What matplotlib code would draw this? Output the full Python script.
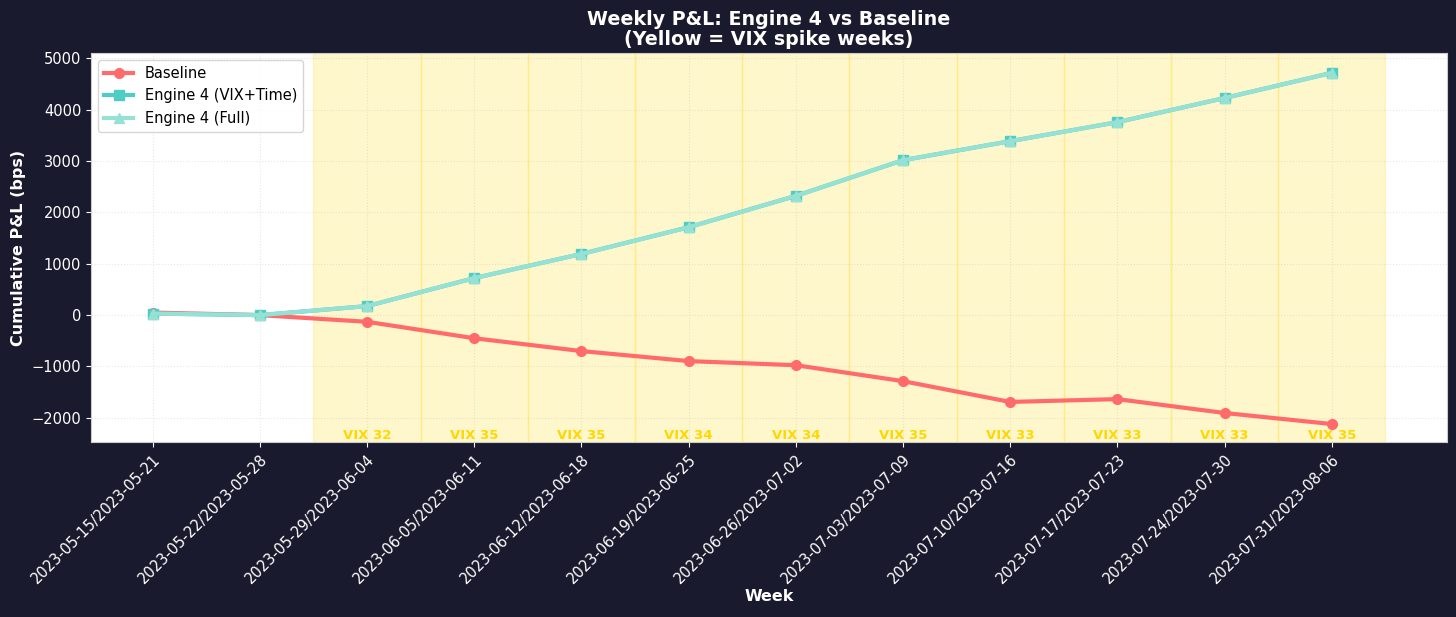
import matplotlib.pyplot as plt
import matplotlib.transforms as mtransforms
import numpy as np

weeks = ['2023-05-15/2023-05-21', '2023-05-22/2023-05-28', '2023-05-29/2023-06-04',
         '2023-06-05/2023-06-11', '2023-06-12/2023-06-18', '2023-06-19/2023-06-25',
         '2023-06-26/2023-07-02', '2023-07-03/2023-07-09', '2023-07-10/2023-07-16',
         '2023-07-17/2023-07-23', '2023-07-24/2023-07-30', '2023-07-31/2023-08-06']
baseline = [50, 0, -130, -450, -700, -895, -975, -1285, -1690, -1635, -1905, -2120]
engine_vix_time = [30, 0, 175, 720, 1190, 1710, 2320, 3015, 3385, 3755, 4225, 4715]
engine_full = [30, 0, 175, 720, 1190, 1710, 2320, 3015, 3385, 3755, 4225, 4715]
spike_weeks = [2, 3, 4, 5, 6, 7, 8, 9, 10, 11]
spike_vix = [32, 35, 35, 34, 34, 35, 33, 33, 33, 35]

bg = '#1a1a2e'
fig = plt.figure(figsize=(14.56, 6.17), dpi=100, facecolor=bg)
ax = fig.add_axes([0.0625, 0.2836, 0.9313, 0.6304])
ax.set_facecolor('white')

x = np.arange(len(weeks))

# spike week shading + labels
trans = mtransforms.blended_transform_factory(ax.transData, ax.transAxes)
for w, v in zip(spike_weeks, spike_vix):
    ax.axvspan(w - 0.5, w + 0.5, color='#FFD700', alpha=0.2)
    ax.text(w, 0.0, f'VIX {v}', transform=trans, ha='center', va='bottom',
            color='#FFD700', fontsize=9.5, fontweight='bold')

ax.plot(x, baseline, '-o', color='#FF6B6B', lw=3, ms=7, label='Baseline')
ax.plot(x, engine_vix_time, '-s', color='#4ECDC4', lw=3, ms=7, label='Engine 4 (VIX+Time)')
ax.plot(x, engine_full, '-^', color='#95E1D3', lw=3, ms=7, label='Engine 4 (Full)')

ax.set_xlim(-0.575, 12.075)
ax.set_ylim(-2470, 5100)
ax.set_xticks(x)
ax.set_xticklabels(weeks, rotation=45, ha='right', rotation_mode='anchor')
ax.tick_params(colors='white', labelsize=10.5)
for sp in ax.spines.values():
    sp.set_color('#cccccc')
ax.grid(True, linestyle=':', alpha=0.3)

ax.set_xlabel('Week', color='white', fontsize=11.5, fontweight='bold', labelpad=2)
ax.set_ylabel('Cumulative P&L (bps)', color='white', fontsize=11.5, fontweight='bold')
ax.set_title('Weekly P&L: Engine 4 vs Baseline\n(Yellow = VIX spike weeks)',
             color='white', fontsize=13.7, fontweight='bold', linespacing=1.05)
ax.legend(loc='upper left', fontsize=10.5)

plt.savefig('out.png', facecolor=bg)
